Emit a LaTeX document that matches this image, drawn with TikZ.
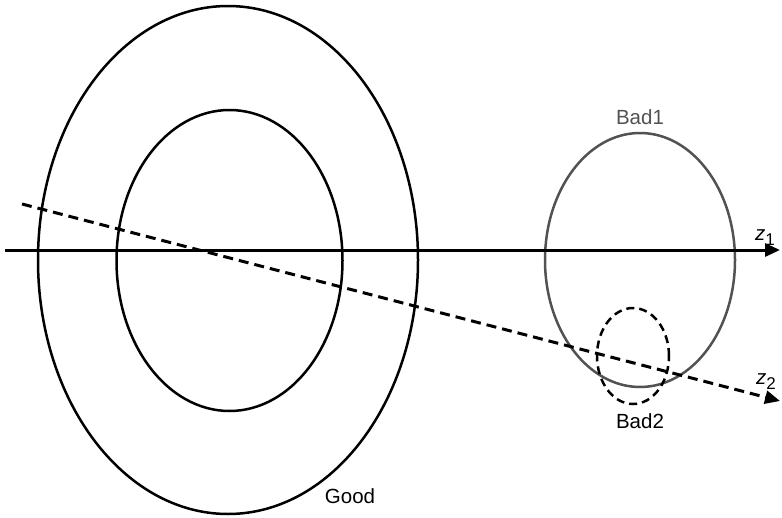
\documentclass[tikz,border=0pt]{standalone}
\usepackage{fontspec}
\setmainfont{Liberation Sans}
\usetikzlibrary{shapes.geometric, arrows.meta, positioning}

\newcommand{\zsub}[1]{\textit{z}\raisebox{-0.45ex}{\fontsize{17}{20}\selectfont #1}}

\begin{document}
\begin{tikzpicture}[x=1pt, y=-1pt,
    region/.style={draw, ellipse, line width=2.5pt, inner sep=0pt},
    lbl/.style={font=\fontsize{20.5}{24}\selectfont, inner sep=0pt},
    axis/.style={draw, line width=3pt, -{Triangle[length=15pt, width=13pt]}},
    faxis/.style={axis, dash pattern=on 10pt off 6pt}
]
    \useasboundingbox (0,0) rectangle (782,517);

    % Regions
    \node[region, minimum width=380pt, minimum height=508pt] (good) at (228,260) {};
    \node[region, minimum width=226pt, minimum height=301pt] (goodin) at (229.5,260.5) {};
    \node[region, draw=black!68, minimum width=190pt, minimum height=254pt] (bad1) at (640,260) {};
    \node[region, dash pattern=on 8pt off 5pt, minimum width=72pt, minimum height=96pt] (bad2) at (633,356) {};

    % Labels
    \node[lbl, text=black!68] (bad1lbl) at (640,117) {Bad1};
    \node[lbl] (bad2lbl) at (640,421) {Bad2};
    \node[lbl] (goodlbl) at (350,496) {Good};

    % Axes
    \coordinate (z1a) at (5,250);
    \coordinate (z1b) at (780,250);
    \coordinate (z2a) at (22,204);
    \coordinate (z2b) at (780,401);
    \draw[axis] (z1a) -- (z1b);
    \draw[faxis] (z2a) -- (z2b);
    \node[lbl] (z1lbl) at (765,238) {\zsub{1}};
    \node[lbl] (z2lbl) at (766,382) {\zsub{2}};
\end{tikzpicture}
\end{document}
